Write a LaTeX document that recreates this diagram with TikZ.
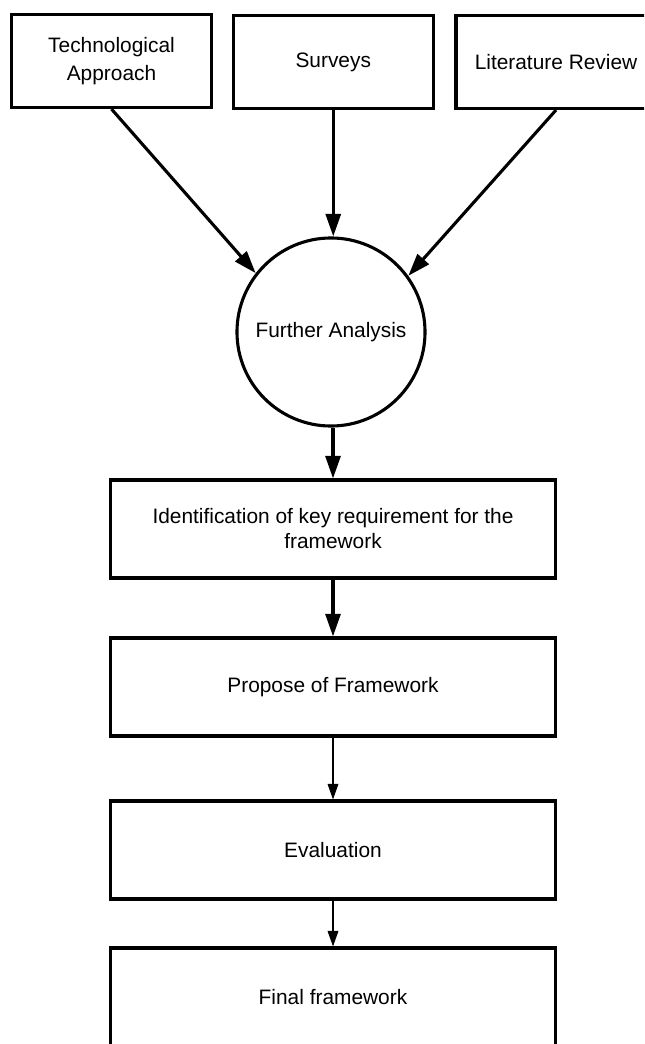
\documentclass[tikz,border=0pt]{standalone}
\usepackage{fontspec}
\setmainfont{Liberation Sans}
\usetikzlibrary{arrows.meta,calc}
\tikzset{%
  srcbox/.style   = {shape=rectangle, draw, line width=2.2pt, align=center,%
                     minimum width=5cm, minimum height=2.325cm, inner sep=0pt},%
  stagebox/.style = {srcbox, minimum width=11.1cm, minimum height=2.45cm},%
  hub/.style      = {circle, draw, line width=2.2pt, minimum size=4.7cm, inner sep=0pt},%
  flow/.style     = {line width=2.2pt, -{Triangle[length=16pt,width=10.6pt]}},%
  thinflow/.style = {line width=0.8pt, -{Triangle[length=11pt,width=7.6pt]}}%
}
\begin{document}
\begin{tikzpicture}[x=0.025cm, y=-0.025cm, every node/.style = {font=\fontsize{14.85}{17.8}\selectfont}]
                  \useasboundingbox (0,0) rectangle (644,1044);
                  \clip (0,0) rectangle (644,1044);
                  % sources
                  \node[srcbox] (tech) at (111.5,61) {Technological\\[2.6pt]Approach};
                  \node[srcbox] (surv) at (333.25,62) {Surveys};
                  \node[srcbox] (lit)  at (556,62) {Literature Review};
                  \node[hub] (further) at (331,332) {Further Analysis};
                  % stages
                  \node[stagebox] (ident)   at (333,529) {Identification of key requirement for the\\framework};
                  \node[stagebox] (propose) at (333,687) {Propose of Framework};
                  \node[stagebox] (eval)    at (333,850) {Evaluation};
                  \node[stagebox] (final)   at (333,997) {Final framework};
                  \draw[flow] (tech.south) -- (further.142);
                  \draw[flow] (surv.south) -- (surv.south |- further.north);
                  \draw[flow] (lit.south) -- (further.36);
                  \draw[flow] (further.south -| ident.north) -- (ident.north);
                  \draw[flow] (ident.south) -- (propose.north);
                  \draw[thinflow] (propose.south) -- (eval.north);
                  \draw[thinflow] (eval.south) -- (final.north);
            \end{tikzpicture}
\end{document}
